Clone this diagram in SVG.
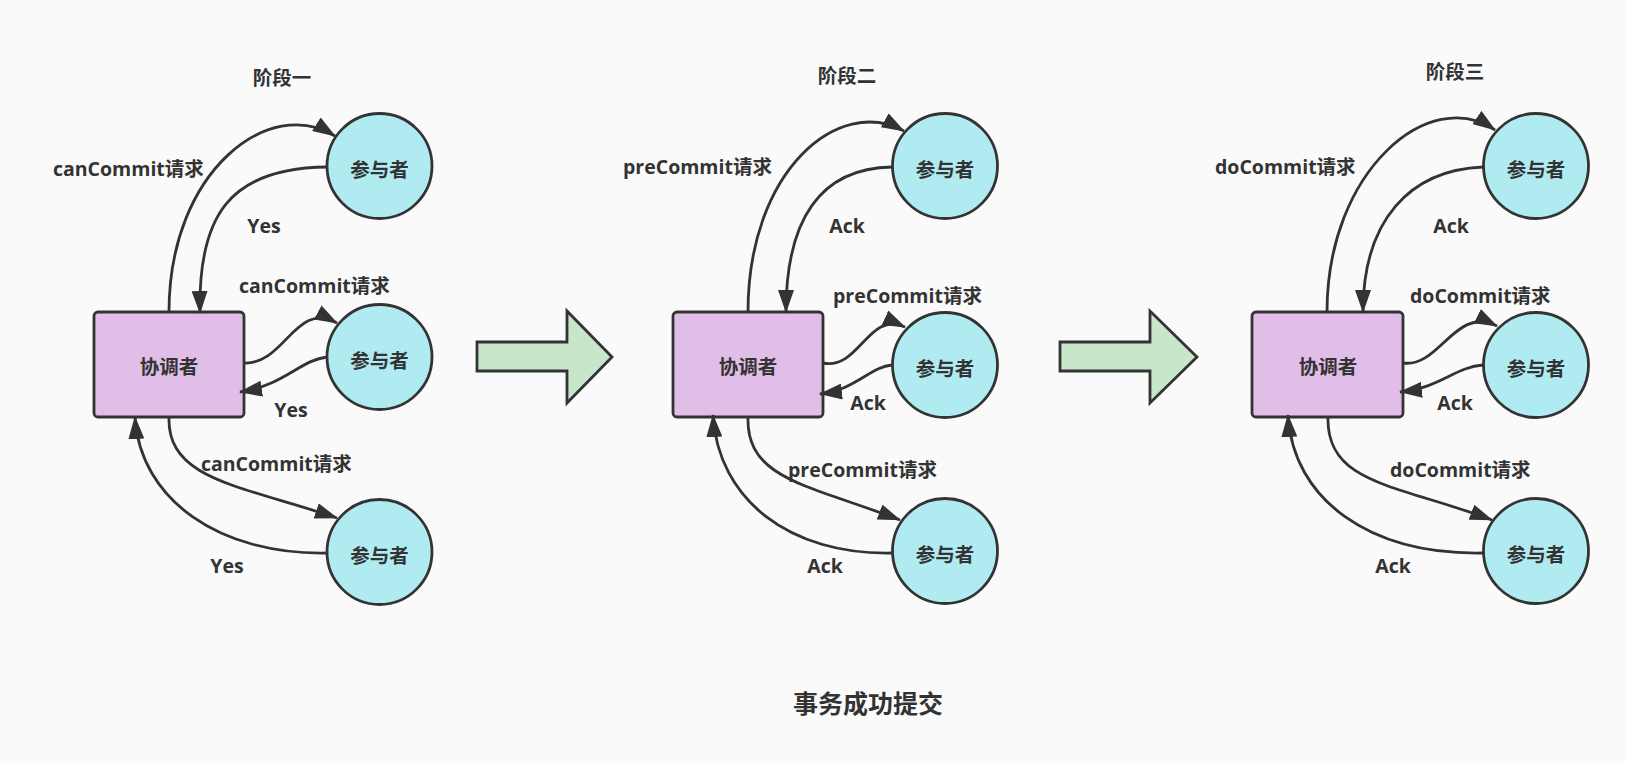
<svg xmlns="http://www.w3.org/2000/svg" width="1625" height="763" viewBox="0 0 1625 763">
<style>
text{font-family:"Open Sans","Noto Sans CJK SC",sans-serif;font-weight:bold;fill:#333;font-size:19.5px;dominant-baseline:central}
.c{text-anchor:middle}
.p{fill:#b1ebf2;stroke:#333;stroke-width:2.8}
.k{fill:#e1bee7;stroke:#333;stroke-width:2.8}
.e{fill:none;stroke:#333;stroke-width:2.8;marker-end:url(#ah)}
.big{fill:#c8e6c9;stroke:#333;stroke-width:2.8;stroke-linejoin:miter}
</style>
<defs>
<marker id="ah" markerUnits="userSpaceOnUse" markerWidth="23" markerHeight="16" refX="22" refY="8" orient="auto" viewBox="0 0 23 16"><path d="M0,0 L23,8 L0,16 z" fill="#333"/></marker>
</defs>
<rect width="1625" height="763" fill="#fafafa"/>

<g id="titles">
<text class="c" x="282" y="77">阶段一</text>
<text class="c" x="847" y="75">阶段二</text>
<text class="c" x="1455" y="71">阶段三</text>
<text class="c" x="868" y="703" style="font-size:25px">事务成功提交</text>
</g>

<g id="stage1-coordinator"><rect class="k" x="94" y="312" width="150" height="105" rx="4"/><text class="c" x="169" y="366">协调者</text></g>
<g id="stage1-participant1"><circle class="p" cx="379.5" cy="166" r="52.5"/><text class="c" x="379.5" y="169">参与者</text></g>
<g id="stage1-participant2"><circle class="p" cx="379.5" cy="357" r="52.5"/><text class="c" x="379.5" y="360">参与者</text></g>
<g id="stage1-participant3"><circle class="p" cx="379.5" cy="552" r="52.5"/><text class="c" x="379.5" y="555">参与者</text></g>

<g id="stage2-coordinator"><rect class="k" x="673" y="312" width="150" height="105" rx="4"/><text class="c" x="748" y="366">协调者</text></g>
<g id="stage2-participant1"><circle class="p" cx="945" cy="166" r="52.5"/><text class="c" x="945" y="169">参与者</text></g>
<g id="stage2-participant2"><circle class="p" cx="945" cy="365" r="52.5"/><text class="c" x="945" y="368">参与者</text></g>
<g id="stage2-participant3"><circle class="p" cx="945" cy="551" r="52.5"/><text class="c" x="945" y="554">参与者</text></g>

<g id="stage3-coordinator"><rect class="k" x="1252" y="312" width="151" height="105" rx="4"/><text class="c" x="1328" y="366">协调者</text></g>
<g id="stage3-participant1"><circle class="p" cx="1536" cy="166" r="52.5"/><text class="c" x="1536" y="169">参与者</text></g>
<g id="stage3-participant2"><circle class="p" cx="1536" cy="365" r="52.5"/><text class="c" x="1536" y="368">参与者</text></g>
<g id="stage3-participant3"><circle class="p" cx="1536" cy="551" r="52.5"/><text class="c" x="1536" y="554">参与者</text></g>

<g id="big-arrow-1"><polygon class="big" points="477,342 567,342 567,311 612,357 567,403 567,371 477,371"/></g>
<g id="big-arrow-2"><polygon class="big" points="1060,342 1150,342 1150,311 1197,357 1150,403 1150,371 1060,371"/></g>

<g id="connectors">
<path class="e" d="M169,312 C169,170 270,95 335,136"/>
<path class="e" d="M327,167 C230,168 198,215 200,313"/>
<path class="e" d="M244,363 C285,365 295,300 337,323"/>
<path class="e" d="M327,357 C300,360 285,385 240,392"/>
<path class="e" d="M169,417 C167,480 240,485 337,518"/>
<path class="e" d="M327,553 C220,555 140,500 135,417"/>

<path class="e" d="M748,312 C748,170 839,95 904,131"/>
<path class="e" d="M892,167 C820,168 786,220 786,312"/>
<path class="e" d="M823,363 C860,370 868,310 905,327"/>
<path class="e" d="M892,365 C870,367 855,390 820,394"/>
<path class="e" d="M748,417 C746,480 810,485 900,520"/>
<path class="e" d="M892,553 C790,555 718,500 713,415"/>

<path class="e" d="M1327,312 C1327,170 1430,85 1495,130"/>
<path class="e" d="M1483,167 C1410,170 1363,220 1363,312"/>
<path class="e" d="M1403,363 C1440,368 1455,305 1497,326"/>
<path class="e" d="M1483,365 C1455,367 1440,388 1400,392"/>
<path class="e" d="M1328,417 C1326,485 1400,485 1492,520"/>
<path class="e" d="M1483,553 C1370,555 1293,500 1288,415"/>

<text x="53" y="168">canCommit请求</text>
<text class="c" x="264" y="225">Yes</text>
<text x="239" y="285">canCommit请求</text>
<text class="c" x="291" y="409">Yes</text>
<text x="201" y="463">canCommit请求</text>
<text class="c" x="227" y="565">Yes</text>

<text x="623" y="166">preCommit请求</text>
<text class="c" x="847" y="225">Ack</text>
<text x="833" y="295">preCommit请求</text>
<text class="c" x="868" y="402">Ack</text>
<text x="788" y="469">preCommit请求</text>
<text class="c" x="825" y="565">Ack</text>

<text x="1215" y="166">doCommit请求</text>
<text class="c" x="1451" y="225">Ack</text>
<text x="1410" y="295">doCommit请求</text>
<text class="c" x="1455" y="402">Ack</text>
<text x="1390" y="469">doCommit请求</text>
<text class="c" x="1393" y="565">Ack</text>
</g>
</svg>
